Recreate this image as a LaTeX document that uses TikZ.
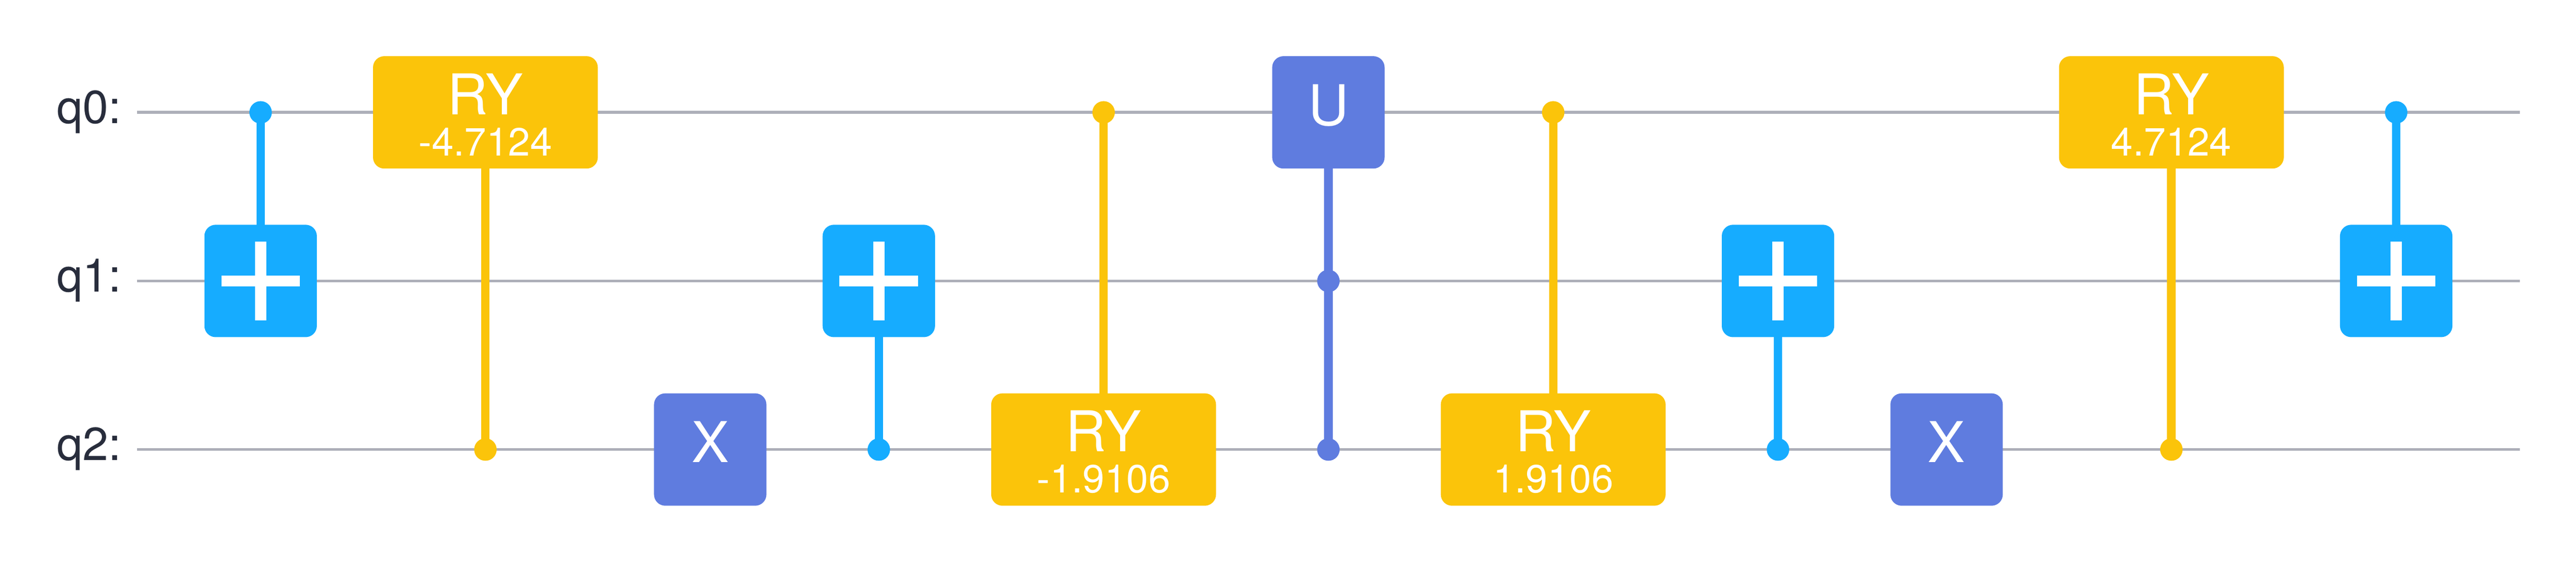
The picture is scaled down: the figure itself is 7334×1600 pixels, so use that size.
\documentclass[tikz,border=0pt]{standalone}
\usepackage{fontspec}
\setmainfont{TeX Gyre Heros}
\usetikzlibrary{backgrounds}
\definecolor{cnotblue}{HTML}{16ACFF}
\definecolor{ryyellow}{HTML}{FBC40A}
\definecolor{gateblue}{HTML}{5F7CDF}
\definecolor{wiregray}{HTML}{ADAFB9}
\definecolor{labelink}{HTML}{282D3C}
\newcommand\oneline[2]{\vbox to 320pt{\offinterlineskip\vskip 197pt
  \hbox to #1pt{\hfil\smash{\fontsize{160}{160}\selectfont #2}\hfil}\vfil}}
\newcommand\twoline[2]{\vbox to 320pt{\offinterlineskip\vskip 166pt
  \hbox to 640pt{\hfil\smash{\fontsize{160}{160}\selectfont #1}\hfil}\vskip 117pt
  \hbox to 640pt{\hfil\smash{\fontsize{112}{112}\selectfont #2}\hfil}\vfil}}
\tikzset{
  x=1pt,y=1pt,
  gatebox/.style={draw=none,rounded corners=32pt,inner sep=0pt,outer sep=0pt,
    minimum width=320pt,minimum height=320pt,text=white},
  cnotbox/.style={gatebox,fill=cnotblue},
  rybox/.style={gatebox,fill=ryyellow,minimum width=640pt},
  xbox/.style={gatebox,fill=gateblue},
  ctrlcnot/.style={circle,fill=cnotblue,minimum size=64pt,inner sep=0pt,outer sep=0pt},
  ctrlry/.style={circle,fill=ryyellow,minimum size=64pt,inner sep=0pt,outer sep=0pt},
  ctrlu/.style={circle,fill=gateblue,minimum size=64pt,inner sep=0pt,outer sep=0pt},
  wire/.style={draw=wiregray,line width=8pt},
  linkcnot/.style={draw=cnotblue,line width=24pt},
  linkry/.style={draw=ryyellow,line width=24pt},
  linku/.style={draw=gateblue,line width=24pt},
  qlabel/.style={anchor=base east,inner sep=0pt,text=labelink,font=\fontsize{132}{132}\selectfont},
  plusbar/.style={fill=white,draw=none},
}
\begin{document}
\begin{tikzpicture}
\useasboundingbox (0,0) rectangle (7334,-1600);
% qubit labels
\node[qlabel] (l0) at (346,-351) {q0:};
\node[qlabel] (l1) at (346,-831) {q1:};
\node[qlabel] (l2) at (346,-1311) {q2:};
% wire ends
\coordinate (w0a) at (390,-320); \coordinate (w0b) at (7174,-320);
\coordinate (w1a) at (390,-800); \coordinate (w1b) at (7174,-800);
\coordinate (w2a) at (390,-1280); \coordinate (w2b) at (7174,-1280);
% gates
\node[cnotbox] (g1) at (742,-800) {};
\node[rybox] (g2) at (1382,-320) {\twoline{RY}{-4.7124}};
\node[xbox] (g3) at (2022,-1280) {\oneline{320}{X}};
\node[cnotbox] (g4) at (2502,-800) {};
\node[rybox] (g5) at (3142,-1280) {\twoline{RY}{-1.9106}};
\node[xbox] (g6) at (3782,-320) {\oneline{320}{U}};
\node[rybox] (g7) at (4422,-1280) {\twoline{RY}{1.9106}};
\node[cnotbox] (g8) at (5062,-800) {};
\node[xbox] (g9) at (5542,-1280) {\oneline{320}{X}};
\node[rybox] (g10) at (6182,-320) {\twoline{RY}{4.7124}};
\node[cnotbox] (g11) at (6822,-800) {};
% plus signs
\foreach \g in {g1,g4,g8,g11}{
  \fill[plusbar] ([shift={(-112,-16)}]\g.center) rectangle ([shift={(112,16)}]\g.center);
  \fill[plusbar] ([shift={(-16,-112)}]\g.center) rectangle ([shift={(16,112)}]\g.center);
}
\begin{scope}[on background layer]
  % wires
  \draw[wire] (w0a) -- (w0b);
  \draw[wire] (w1a) -- (w1b);
  \draw[wire] (w2a) -- (w2b);
  % controls
  \node[ctrlcnot] (c1) at (742,-320) {};
  \node[ctrlry] (c2) at (1382,-1280) {};
  \node[ctrlcnot] (c4) at (2502,-1280) {};
  \node[ctrlry] (c5) at (3142,-320) {};
  \node[ctrlu] (c6a) at (3782,-800) {};
  \node[ctrlu] (c6b) at (3782,-1280) {};
  \node[ctrlry] (c7) at (4422,-320) {};
  \node[ctrlcnot] (c8) at (5062,-1280) {};
  \node[ctrlry] (c10) at (6182,-1280) {};
  \node[ctrlcnot] (c11) at (6822,-320) {};
  % connectors
  \draw[linkcnot] (c1.center) -- (g1.center);
  \draw[linkry] (g2.center) -- (c2.center);
  \draw[linkcnot] (c4.center) -- (g4.center);
  \draw[linkry] (c5.center) -- (g5.center);
  \draw[linku] (g6.center) -- (c6a.center);
  \draw[linku] (c6a.center) -- (c6b.center);
  \draw[linkry] (c7.center) -- (g7.center);
  \draw[linkcnot] (c8.center) -- (g8.center);
  \draw[linkry] (g10.center) -- (c10.center);
  \draw[linkcnot] (c11.center) -- (g11.center);
\end{scope}
\end{tikzpicture}
\end{document}
